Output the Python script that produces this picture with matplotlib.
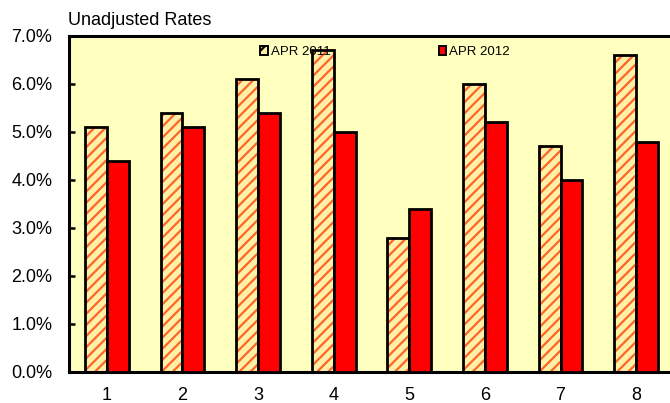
import matplotlib
matplotlib.use("Agg")
import matplotlib.pyplot as plt
from matplotlib.patches import Patch
from matplotlib.ticker import FuncFormatter

# data
categories = [1, 2, 3, 4, 5, 6, 7, 8]
apr_2011 = [5.1, 5.4, 6.1, 6.7, 2.8, 6.0, 4.7, 6.6]
apr_2012 = [4.4, 5.1, 5.4, 5.0, 3.4, 5.2, 4.0, 4.8]
series_names = ["APR 2011", "APR 2012"]
y_ticks = [0, 1, 2, 3, 4, 5, 6, 7]

plt.rcParams['font.family'] = ['Liberation Sans', 'DejaVu Sans']
plt.rcParams['hatch.linewidth'] = 1.6

bg = '#FFFFC0'
hatch_face = '#FFF0A8'
hatch_col = '#FF6428'
red = '#FF0000'

fig = plt.figure(figsize=(6.7, 4.03), dpi=100)
ax = fig.add_axes([69/670, 31/403, 605/670, 336/403])
ax.set_facecolor(bg)

w = 0.29
x1 = [c - w/2 for c in categories]
x2 = [c + w/2 for c in categories]

# hatched bars: hatch drawn first, black outline on top
ax.bar(x1, apr_2011, width=w, color=hatch_face, edgecolor=hatch_col, hatch='///', linewidth=0, zorder=2)
ax.bar(x1, apr_2011, width=w, fill=False, edgecolor='black', linewidth=2, zorder=3)
ax.bar(x2, apr_2012, width=w, color=red, edgecolor='black', linewidth=2, zorder=3)

ax.set_xlim(0.5, 8.5)
ax.set_ylim(0, 7)
ax.set_yticks(y_ticks)
ax.yaxis.set_major_formatter(FuncFormatter(lambda v, p: f"{v:.1f}%"))
ax.set_xticks(categories)
ax.tick_params(axis='y', direction='in', length=4, width=1.8, pad=12, labelsize=13)
ax.tick_params(axis='x', length=0, pad=11, labelsize=13)

for s in ['left', 'bottom', 'top']:
    ax.spines[s].set_linewidth(2.2)
ax.spines['right'].set_visible(False)

fig.text(68/670, 1 - 25/403, "Unadjusted Rates", fontsize=13, va='baseline', ha='left')

handles = [Patch(facecolor=hatch_face, edgecolor='black', hatch='///', linewidth=1.4),
           Patch(facecolor=red, edgecolor='black', linewidth=1.4)]
ax.legend(handles, series_names, ncol=2, frameon=False, fontsize=9.5,
          loc='center left', bbox_to_anchor=(260/670, 1 - 52/403), bbox_transform=fig.transFigure,
          handlelength=0.6, handleheight=0.6, handletextpad=0.2, columnspacing=8.2,
          borderpad=0, borderaxespad=0)

fig.savefig("out.png", dpi=100)
